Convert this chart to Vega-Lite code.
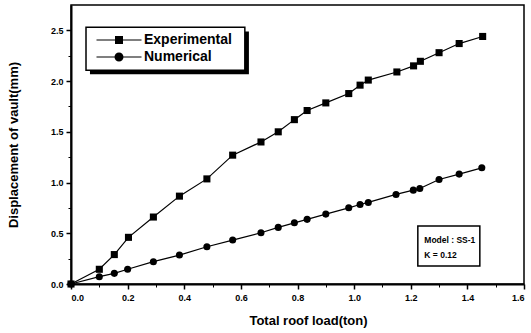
{
  "$schema": "https://vega.github.io/schema/vega-lite/v6.json",
  "width": 453,
  "height": 279,
  "autosize": "none",
  "padding": {"left": 71, "top": 5, "right": 7, "bottom": 49},
  "background": "white",
  "config": {
    "view": {"stroke": "black", "strokeWidth": 1.5},
    "axis": {
      "labelFont": "Liberation Sans",
      "labelFontSize": 9,
      "labelFontWeight": "bold",
      "labelColor": "black",
      "titleFont": "Liberation Sans",
      "titleFontSize": 13,
      "titleFontWeight": "bold",
      "titleColor": "black",
      "domainColor": "black",
      "tickColor": "black",
      "grid": false
    }
  },
  "data": {
    "values": [
      {"load": 0, "disp": 0, "series": "Experimental"},
      {"load": 0.10, "disp": 0.145, "series": "Experimental"},
      {"load": 0.153, "disp": 0.29, "series": "Experimental"},
      {"load": 0.203, "disp": 0.46, "series": "Experimental"},
      {"load": 0.291, "disp": 0.66, "series": "Experimental"},
      {"load": 0.383, "disp": 0.866, "series": "Experimental"},
      {"load": 0.48, "disp": 1.036, "series": "Experimental"},
      {"load": 0.571, "disp": 1.27, "series": "Experimental"},
      {"load": 0.671, "disp": 1.40, "series": "Experimental"},
      {"load": 0.732, "disp": 1.50, "series": "Experimental"},
      {"load": 0.789, "disp": 1.62, "series": "Experimental"},
      {"load": 0.834, "disp": 1.71, "series": "Experimental"},
      {"load": 0.90, "disp": 1.785, "series": "Experimental"},
      {"load": 0.981, "disp": 1.877, "series": "Experimental"},
      {"load": 1.021, "disp": 1.96, "series": "Experimental"},
      {"load": 1.05, "disp": 2.01, "series": "Experimental"},
      {"load": 1.151, "disp": 2.09, "series": "Experimental"},
      {"load": 1.21, "disp": 2.15, "series": "Experimental"},
      {"load": 1.234, "disp": 2.195, "series": "Experimental"},
      {"load": 1.30, "disp": 2.28, "series": "Experimental"},
      {"load": 1.371, "disp": 2.37, "series": "Experimental"},
      {"load": 1.454, "disp": 2.44, "series": "Experimental"},
      {"load": 0, "disp": 0, "series": "Numerical"},
      {"load": 0.10, "disp": 0.072, "series": "Numerical"},
      {"load": 0.153, "disp": 0.105, "series": "Numerical"},
      {"load": 0.2, "disp": 0.145, "series": "Numerical"},
      {"load": 0.291, "disp": 0.22, "series": "Numerical"},
      {"load": 0.383, "disp": 0.285, "series": "Numerical"},
      {"load": 0.48, "disp": 0.367, "series": "Numerical"},
      {"load": 0.571, "disp": 0.433, "series": "Numerical"},
      {"load": 0.671, "disp": 0.505, "series": "Numerical"},
      {"load": 0.732, "disp": 0.558, "series": "Numerical"},
      {"load": 0.789, "disp": 0.603, "series": "Numerical"},
      {"load": 0.834, "disp": 0.637, "series": "Numerical"},
      {"load": 0.90, "disp": 0.689, "series": "Numerical"},
      {"load": 0.981, "disp": 0.751, "series": "Numerical"},
      {"load": 1.021, "disp": 0.784, "series": "Numerical"},
      {"load": 1.05, "disp": 0.804, "series": "Numerical"},
      {"load": 1.148, "disp": 0.883, "series": "Numerical"},
      {"load": 1.209, "disp": 0.925, "series": "Numerical"},
      {"load": 1.232, "disp": 0.942, "series": "Numerical"},
      {"load": 1.30, "disp": 1.03, "series": "Numerical"},
      {"load": 1.371, "disp": 1.083, "series": "Numerical"},
      {"load": 1.451, "disp": 1.145, "series": "Numerical"}
    ]
  },
  "layer": [
    {
      "mark": {"type": "point", "opacity": 0},
      "encoding": {
        "x": {"field": "load", "type": "quantitative", "scale": {"domain": [0, 1.6], "nice": false},
          "axis": {"orient": "bottom", "values": [0.1, 0.3, 0.5, 0.7, 0.9, 1.1, 1.3, 1.5], "labels": false, "domain": false, "ticks": true, "tickSize": 3, "tickWidth": 1, "title": null}},
        "y": {"field": "disp", "type": "quantitative", "scale": {"domain": [0, 2.75], "nice": false},
          "axis": {"orient": "left", "values": [0.25, 0.75, 1.25, 1.75, 2.25], "labels": false, "domain": false, "ticks": true, "tickSize": 3, "tickWidth": 1, "title": null}}
      }
    },
    {
      "layer": [
        {
          "mark": {"type": "line", "color": "black", "strokeWidth": 1.2},
          "encoding": {
            "x": {"field": "load", "type": "quantitative", "scale": {"domain": [0, 1.6], "nice": false},
              "axis": {"orient": "bottom", "values": [0, 0.2, 0.4, 0.6, 0.8, 1.0, 1.2, 1.4, 1.6], "format": ".1f", "tickSize": 5, "tickWidth": 1.5, "domainWidth": 2, "labelPadding": 4, "title": "Total roof load(ton)", "titlePadding": 12, "titleX": 237}},
            "y": {"field": "disp", "type": "quantitative", "scale": {"domain": [0, 2.75], "nice": false},
              "axis": {"orient": "left", "values": [0, 0.5, 1.0, 1.5, 2.0, 2.5], "format": ".1f", "tickSize": 5, "tickWidth": 1.5, "domainWidth": 2, "labelPadding": 3, "title": "Displacement of vault(mm)", "titlePadding": 30}},
            "detail": {"field": "series"}
          }
        },
        {
          "mark": {"type": "point", "filled": true, "color": "black", "opacity": 1, "size": 50},
          "encoding": {
            "x": {"field": "load", "type": "quantitative"},
            "y": {"field": "disp", "type": "quantitative"},
            "shape": {"field": "series", "type": "nominal",
              "scale": {"domain": ["Experimental", "Numerical"], "range": ["square", "circle"]},
              "legend": null
            }
          }
        },
        {
          "data": {"values": [{"box": "legend shadow"}]},
          "mark": {"type": "rect", "fill": "black", "stroke": null},
          "encoding": {
            "x": {"datum": 0.067, "type": "quantitative"},
            "x2": {"datum": 0.6284},
            "y": {"datum": 2.49, "type": "quantitative"},
            "y2": {"datum": 2.067}
          }
        },
        {
          "data": {"values": [{"box": "legend"}]},
          "mark": {"type": "rect", "fill": "white", "stroke": "black", "strokeWidth": 1.5},
          "encoding": {
            "x": {"datum": 0.053, "type": "quantitative"},
            "x2": {"datum": 0.614},
            "y": {"datum": 2.53, "type": "quantitative"},
            "y2": {"datum": 2.106}
          }
        },
        {
          "mark": {"type": "point", "filled": true, "color": "black", "opacity": 1, "size": 0},
          "encoding": {
            "x": {"field": "load", "type": "quantitative"},
            "y": {"field": "disp", "type": "quantitative"},
            "shape": {"field": "series", "type": "nominal",
              "scale": {"domain": ["Experimental", "Numerical"], "range": ["M-2.25,-0.05H2.25V0.05H-2.25ZM-0.4,-0.4H0.4V0.4H-0.4Z", "M-2.25,-0.05H2.25V0.05H-2.25ZM-0.45,0A0.45,0.45 0 1,1 0.45,0A0.45,0.45 0 1,1 -0.45,0Z"]},
              "legend": {
                "orient": "none", "legendX": 38, "legendY": 25, "title": null,
                "strokeColor": null, "fillColor": null, "padding": 0, "rowPadding": 0,
                "labelFont": "Liberation Sans", "labelFontSize": 14, "labelFontWeight": "bold", "labelColor": "black", "labelOffset": 15,
                "symbolSize": 400, "symbolFillColor": "black", "symbolStrokeColor": "black", "symbolStrokeWidth": 0, "symbolOpacity": 1
              }
            }
          }
        },
        {
          "data": {"values": [{"box": "annotation"}]},
          "mark": {"type": "rect", "fill": "white", "stroke": "black", "strokeWidth": 1.5},
          "encoding": {
            "x": {"datum": 1.225, "type": "quantitative"},
            "x2": {"datum": 1.444},
            "y": {"datum": 0.177, "type": "quantitative"},
            "y2": {"datum": 0.571}
          }
        },
        {
          "data": {"values": [{"note": "Model : SS-1"}]},
          "mark": {"type": "text", "align": "left", "baseline": "middle", "font": "Liberation Sans", "fontSize": 8.5, "fontWeight": "bold", "color": "black"},
          "encoding": {
            "x": {"datum": 1.248, "type": "quantitative"},
            "y": {"datum": 0.433, "type": "quantitative"},
            "text": {"field": "note"}
          }
        },
        {
          "data": {"values": [{"note": "K = 0.12"}]},
          "mark": {"type": "text", "align": "left", "baseline": "middle", "font": "Liberation Sans", "fontSize": 8.5, "fontWeight": "bold", "color": "black"},
          "encoding": {
            "x": {"datum": 1.248, "type": "quantitative"},
            "y": {"datum": 0.285, "type": "quantitative"},
            "text": {"field": "note"}
          }
        }
      ],
      "resolve": {"scale": {"shape": "independent"}}
    }
  ],
  "resolve": {"axis": {"x": "independent", "y": "independent"}}
}
